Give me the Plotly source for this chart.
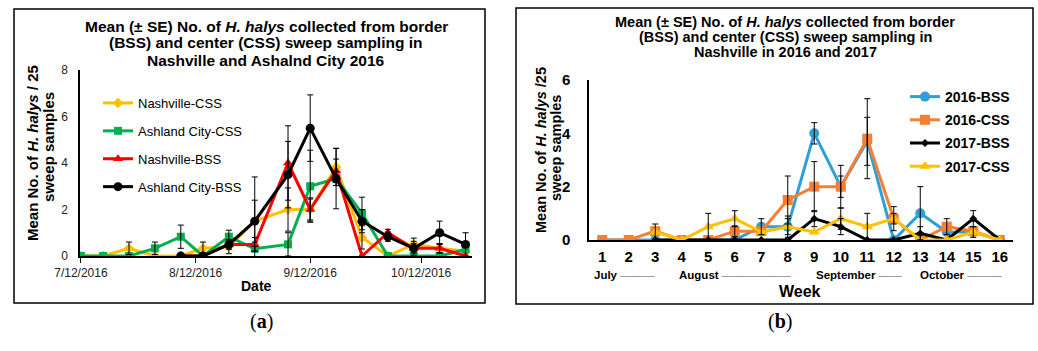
import plotly.graph_objects as go

# ---------------- Panel (a) data ----------------
dates_a = ["2016-07-12", "2016-07-18", "2016-07-25", "2016-08-01", "2016-08-08",
           "2016-08-14", "2016-08-21", "2016-08-28", "2016-09-06", "2016-09-12",
           "2016-09-19", "2016-09-26", "2016-10-03", "2016-10-10", "2016-10-17",
           "2016-10-24"]
nash_css = [0, 0, 0.33, 0, 0, 0.33, 0.4, 1.5, 2.0, 2.0, 3.83, 0.8, 0, 0.5, 0.33, 0.2]
nash_css_se = [0, 0, 0.27, 0, 0, 0.27, 0.3, 0.9, 0.93, 0.5, 0.8, 0.5, 0, 0.27, 0.2, 0]
ash_css = [0, 0, 0, 0.33, 0.83, 0, 0.83, 0.31, 0.5, 3.0, 3.33, 1.83, 0, 0, 0, 0.28]
ash_css_se = [0, 0, 0, 0.27, 0.5, 0, 0.28, 0.1, 0.5, 1.55, 0.3, 0.7, 0, 0, 0, 0]
nash_bss = [None, None, None, None, 0, 0, 0.5, 0.5, 4.0, 2.0, 3.67, 0, 1.0, 0.33, 0.33, 0]
nash_bss_se = [None, None, None, None, 0, 0, 0.2, 0.3, 1.6, 0.45, 0.5, 0, 0.15, 0.2, 0.2, 0]
ash_bss = [None, None, None, None, 0, 0, 0.5, 1.5, 3.5, 5.5, 3.33, 1.5, 0.83, 0.33, 1.0, 0.5]
ash_bss_se = [None, None, None, None, 0, 0, 0.2, 1.9, 1.43, 1.43, 1.3, 0.5, 0.2, 0.3, 0.5, 0.5]
date_ticks = ["2016-07-12", "2016-08-12", "2016-09-12", "2016-10-12"]
date_labels = ["7/12/2016", "8/12/2016", "9/12/2016", "10/12/2016"]

# ---------------- Panel (b) data ----------------
weeks = list(range(1, 17))
bss16 = [0, 0, 0, 0, 0, 0, 0.5, 0.5, 4.0, 2.0, 3.7, 0, 1.0, 0.3, 0.3, 0]
bss16_se = [0, 0, 0, 0, 0, 0, 0.3, 0.4, 0.4, 0.4, 0.9, 0, 1.0, 0, 0, 0]
css16 = [0, 0, 0.33, 0, 0, 0.33, 0.33, 1.5, 2.0, 2.0, 3.8, 0.8, 0, 0.5, 0.33, 0]
css16_se = [0, 0, 0, 0, 0, 0.2, 0, 0.9, 0.94, 0.8, 1.5, 0.45, 0, 0.3, 0, 0]
bss17 = [None, None, 0, 0, 0, 0, 0, 0, 0.8, 0.5, 0, 0, 0.25, 0, 0.8, 0]
bss17_se = [None, None, 0, 0, 0, 0, 0, 0, 0.3, 0.3, 0, 0, 0.25, 0, 0.3, 0]
css17 = [None, None, 0.3, 0, 0.5, 0.8, 0.3, 0.5, 0.3, 0.8, 0.5, 0.8, 0, 0, 0.3, 0]
css17_se = [None, None, 0.3, 0, 0.5, 0.3, 0, 0.3, 0, 0.4, 0.5, 0.2, 0, 0, 0.2, 0]
months = ["July", "August", "September", "October"]

W, H = 1038, 351
FONT = "Liberation Sans, Arial, sans-serif"
NARROW = "Liberation Sans Narrow, Arial Narrow, Liberation Sans, Arial"
SERIF = "Liberation Serif, Times New Roman, serif"


def px_x(p):
    return p / W


def px_y(p):
    return 1 - p / H


fig = go.Figure()

series_a = [
    ("Nashville-CSS", nash_css, nash_css_se, "#FFC000", "diamond", 8),
    ("Ashland City-CSS", ash_css, ash_css_se, "#00B050", "square", 8),
    ("Nashville-BSS", nash_bss, nash_bss_se, "#FF0000", "triangle-up", 9),
    ("Ashland City-BSS", ash_bss, ash_bss_se, "#000000", "circle", 9),
]
for i, (name, ys, se, col, sym, ms) in enumerate(series_a):
    fig.add_trace(go.Scatter(
        x=dates_a, y=ys, name=name, mode="lines+markers",
        line=dict(color=col, width=3), marker=dict(symbol=sym, size=ms, color=col),
        xaxis="x", yaxis="y", legend="legend", legendgroup="a%d" % i))
for name, ys, se, col, sym, ms in series_a:
    xs = [d for d, v, e in zip(dates_a, ys, se) if v is not None and e]
    yv = [v for v, e in zip(ys, se) if v is not None and e]
    ev = [e for v, e in zip(ys, se) if v is not None and e]
    fig.add_trace(go.Scatter(
        x=xs, y=yv, mode="markers", marker=dict(size=1, opacity=0),
        error_y=dict(type="data", array=ev, color="#000000", thickness=1, width=3),
        showlegend=False, hoverinfo="skip", xaxis="x", yaxis="y"))

series_b = [
    ("2016-BSS", bss16, bss16_se, "#2E9FD8", "circle", 10),
    ("2016-CSS", css16, css16_se, "#F57F32", "square", 10),
    ("2017-BSS", bss17, bss17_se, "#000000", "diamond", 6),
    ("2017-CSS", css17, css17_se, "#FFC000", "triangle-up", 10),
]
for i, (name, ys, se, col, sym, ms) in enumerate(series_b):
    fig.add_trace(go.Scatter(
        x=weeks, y=ys, name=name, mode="lines+markers",
        line=dict(color=col, width=3), marker=dict(symbol=sym, size=ms, color=col),
        xaxis="x2", yaxis="y2", legend="legend2", legendgroup="b%d" % i))
for name, ys, se, col, sym, ms in series_b:
    xs = [w for w, v, e in zip(weeks, ys, se) if v is not None and e]
    yv = [v for v, e in zip(ys, se) if v is not None and e]
    ev = [e for v, e in zip(ys, se) if v is not None and e]
    fig.add_trace(go.Scatter(
        x=xs, y=yv, mode="markers", marker=dict(size=1, opacity=0),
        error_y=dict(type="data", array=ev, color="#000000", thickness=1, width=3),
        showlegend=False, hoverinfo="skip", xaxis="x2", yaxis="y2"))

annotations = []


def ann(text, x, y, size, family=FONT, angle=0, xanchor="center", xref="paper"):
    annotations.append(dict(text=text, x=x, y=y, xref=xref, yref="paper",
                            xanchor=xanchor, yanchor="middle", showarrow=False,
                            textangle=angle,
                            font=dict(family=family, size=size, color="#000")))


# titles
title_a = ["Mean (± SE) No. of <i>H. halys</i> collected from border",
           "(BSS) and center (CSS) sweep sampling in",
           "Nashville and Ashalnd City 2016"]
title_b = ["Mean (± SE) No. of <i>H. halys</i> collected from border",
           "(BSS) and center (CSS) sweep sampling in",
           "Nashville in 2016 and 2017"]
for k, t in enumerate(title_a):
    ann("<b>%s</b>" % t, px_x(266), px_y(26 + 17 * k), 15.5)
for k, t in enumerate(title_b):
    ann("<b>%s</b>" % t, px_x(785), px_y(22 + 15 * k), 14.5)
# y-axis titles (two lines each, tight spacing)
ann("<b>Mean No. of <i>H. halys</i> / 25</b>", px_x(32), px_y(153), 15, angle=-90)
ann("<b>sweep samples</b>", px_x(48), px_y(147), 15, angle=-90)
ann("<b>Mean No. of <i>H. halys</i> /25</b>", px_x(541), px_y(150), 14.5, angle=-90)
ann("<b>sweep samples</b>", px_x(556), px_y(148), 14.5, angle=-90)
# x-axis titles
ann("<b>Date</b>", px_x(256), px_y(286), 14)
ann("<b>Week</b>", px_x(800), px_y(291), 16)
# month labels (left edge of each label, in week units of the lower axis)
month_label_start = [0.62, 3.83, 9.0, 12.92]
month_dashes = [3, 6, 2, 3]
for m, wk, nd in zip(months, month_label_start, month_dashes):
    ann("<b>%s</b> <span style='color:#888'>%s</span>" % (m, "—" * nd), wk,
        px_y(275), 11.5, family=NARROW, xanchor="left", xref="x2")
# panel labels
ann("(<b>a</b>)", px_x(261), px_y(321), 20, family=SERIF)
ann("(<b>b</b>)", px_x(780), px_y(321), 20, family=SERIF)

shapes = [
    dict(type="rect", xref="paper", yref="paper", x0=px_x(14), x1=px_x(485),
         y0=px_y(303), y1=px_y(9), line=dict(color="#000", width=1.5)),
    dict(type="rect", xref="paper", yref="paper", x0=px_x(516), x1=px_x(1033),
         y0=px_y(304), y1=px_y(8), line=dict(color="#000", width=1.5)),
]

fig.update_layout(
    width=W, height=H, margin=dict(l=0, r=0, t=0, b=0, autoexpand=False),
    paper_bgcolor="white", plot_bgcolor="white",
    font=dict(family=FONT, color="#000"),
    annotations=annotations, shapes=shapes,
    xaxis=dict(domain=[px_x(80), px_x(472)], type="date",
               range=["2016-07-11 18:00", "2016-10-25 18:00"],
               tickvals=date_ticks, ticktext=date_labels, ticks="outside", ticklen=5,
               tickcolor="#000", showline=True, linecolor="#000", linewidth=1.5,
               showgrid=False, zeroline=False, anchor="y", automargin=False,
               tickfont=dict(family=FONT, size=12, color="#222")),
    yaxis=dict(domain=[px_y(256), px_y(70)], range=[0, 8], dtick=2, showline=True,
               linecolor="#000", linewidth=1.5, showgrid=False, zeroline=False,
               ticks="", ticklabelstandoff=8, anchor="x", automargin=False,
               tickfont=dict(family=FONT, size=12, color="#222")),
    xaxis2=dict(domain=[px_x(589), px_x(1013)], range=[0.5, 16.5], dtick=1,
                showline=True, linecolor="#000", linewidth=1.5, showgrid=False,
                zeroline=False, ticks="", anchor="y2", ticklabelstandoff=2,
                automargin=False,
                tickfont=dict(family=FONT, size=15, color="#000", weight="bold")),
    yaxis2=dict(domain=[px_y(240), px_y(80)], range=[0, 6], dtick=2, showline=True,
                linecolor="#000", linewidth=1.5, showgrid=False, zeroline=False,
                ticks="", anchor="x2", ticklabelstandoff=14, automargin=False,
                tickfont=dict(family=FONT, size=15, color="#000", weight="bold")),
    legend=dict(x=px_x(98), y=px_y(88), xanchor="left", yanchor="top",
                bgcolor="rgba(0,0,0,0)", tracegroupgap=8,
                font=dict(family=FONT, size=13, color="#000")),
    legend2=dict(x=px_x(905), y=px_y(81), xanchor="left", yanchor="top",
                 bgcolor="rgba(0,0,0,0)", tracegroupgap=2,
                 font=dict(family=FONT, size=14, color="#000", weight="bold")),
)

fig.write_html("out.html", config={"displayModeBar": False},
               post_script="document.body.style.margin='0px';")
